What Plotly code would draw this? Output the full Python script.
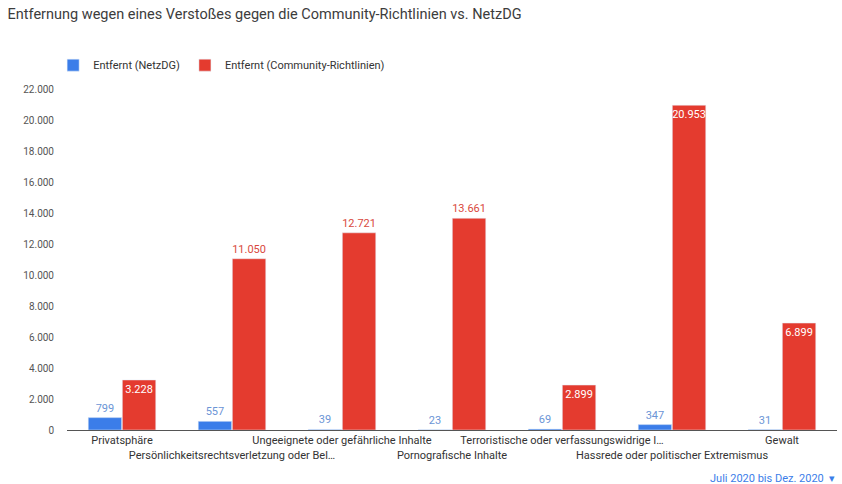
import plotly.graph_objects as go

categories = [
    "Privatsphäre",
    "Persönlichkeitsrechtsverletzung oder Bel…",
    "Ungeeignete oder gefährliche Inhalte",
    "Pornografische Inhalte",
    "Terroristische oder verfassungswidrige I…",
    "Hassrede oder politischer Extremismus",
    "Gewalt",
]
removed_netzdg = [799, 557, 39, 23, 69, 347, 31]
removed_guidelines = [3228, 11050, 12721, 13661, 2899, 20953, 6899]
# label placement of the red bars: inside at the top or above the bar
guideline_label_pos = ["inside", "outside", "outside", "outside", "inside", "inside", "inside"]
y_ticks = list(range(0, 22001, 2000))

BLUE = "#3b7de9"
RED = "#e43b2f"
FONT = "Roboto, Arial, sans-serif"


def fmt(v):
    return f"{v:,}".replace(",", ".")


# alternate tick labels between two rows so long names don't collide
tick_text = [c if i % 2 == 0 else "<br>" + c for i, c in enumerate(categories)]

fig = go.Figure()
fig.add_trace(go.Bar(
    name="Entfernt (NetzDG)",
    x=categories,
    y=removed_netzdg,
    marker_color=BLUE,
    text=[fmt(v) for v in removed_netzdg],
    textposition="outside",
    textangle=0,
    textfont=dict(color="#6b95d6", size=11, family=FONT),
    cliponaxis=False,
))
fig.add_trace(go.Bar(
    name="Entfernt (Community-Richtlinien)",
    x=categories,
    y=removed_guidelines,
    marker_color=RED,
    text=[fmt(v) for v in removed_guidelines],
    textposition=guideline_label_pos,
    insidetextanchor="end",
    textangle=0,
    textfont=dict(
        color=["white" if p == "inside" else "#d9493e" for p in guideline_label_pos],
        size=11, family=FONT,
    ),
    constraintext="none",
    cliponaxis=False,
))

fig.update_layout(
    width=842, height=484,
    margin=dict(l=67, r=5, t=89, b=54),
    paper_bgcolor="white",
    plot_bgcolor="white",
    separators=",.",
    barmode="group",
    bargap=0.38,
    bargroupgap=0.02,
    font=dict(family=FONT, size=11, color="#333333"),
    title=dict(
        text="Entfernung wegen eines Verstoßes gegen die Community-Richtlinien vs. NetzDG",
        x=0.009, xanchor="left", y=0.972, yanchor="middle",
        font=dict(size=14.5, color="#3c3c3c", family=FONT),
    ),
    legend=dict(
        orientation="h",
        x=-0.018, xanchor="left",
        y=1.07, yanchor="middle",
        font=dict(size=11, color="#333333"),
        itemwidth=30,
        traceorder="normal",
    ),
    showlegend=True,
    xaxis=dict(
        tickmode="array",
        tickvals=categories,
        ticktext=tick_text,
        showline=True,
        linecolor="#555555",
        linewidth=1,
        showgrid=False,
        ticks="",
        tickfont=dict(size=11, color="#333333"),
        tickangle=0,
    ),
    yaxis=dict(
        range=[0, 22000],
        tickvals=y_ticks,
        tickformat=",d",
        showgrid=False,
        zeroline=False,
        tickfont=dict(size=10, color="#555555"),
        ticklabelstandoff=12,
    ),
    annotations=[dict(
        text="Juli 2020 bis Dez. 2020  ▾",
        xref="paper", yref="paper",
        x=1.0, xanchor="right",
        y=-0.142, yanchor="middle",
        showarrow=False,
        font=dict(size=11, color="#3b7de9", family=FONT),
    )],
)

fig.write_html("out.html")
